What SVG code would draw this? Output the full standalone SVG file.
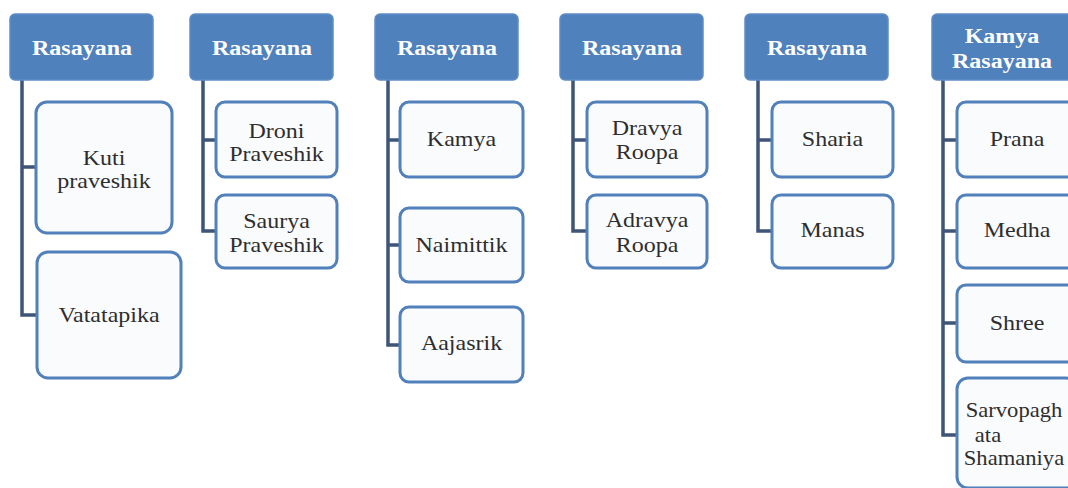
<svg xmlns="http://www.w3.org/2000/svg" width="1068" height="488" viewBox="0 0 1068 488">
<style>
.hd{fill:#4f81bd;stroke:#5f8dc6;stroke-width:1.5}
.ch{fill:#fafbfd;stroke:#5180bb;stroke-width:3}
.ht{font-family:"Liberation Serif","Times New Roman",serif;font-weight:bold;font-size:20px;fill:#ffffff;text-anchor:middle}
.ct{font-family:"Liberation Serif","Times New Roman",serif;font-size:20px;fill:#2e2e2e;text-anchor:middle}
.cn{fill:none;stroke:#3e5577;stroke-width:3.5}
</style>
<rect width="1068" height="488" fill="#ffffff"/>
<g id="connectors">
<path class="cn" d="M22 80V315H37M22 167H36"/>
<path class="cn" d="M203 80V231H216M203 140H216"/>
<path class="cn" d="M388 80V345H400M388 140H400M388 245H400"/>
<path class="cn" d="M573 80V231H587M573 140H587"/>
<path class="cn" d="M758 80V231H772M758 140H772"/>
<path class="cn" d="M943 80V435H957M943 140H957M943 231H957M943 323H957"/>
</g>
<g id="h1"><rect class="hd" x="10" y="14" width="143" height="66" rx="5"/><text class="ht" transform="translate(82 0) scale(1.2 1)" y="55">Rasayana</text></g>
<g id="h2"><rect class="hd" x="190" y="14" width="143" height="66" rx="5"/><text class="ht" transform="translate(262 0) scale(1.2 1)" y="55">Rasayana</text></g>
<g id="h3"><rect class="hd" x="375" y="14" width="143" height="66" rx="5"/><text class="ht" transform="translate(447 0) scale(1.2 1)" y="55">Rasayana</text></g>
<g id="h4"><rect class="hd" x="560" y="14" width="143" height="66" rx="5"/><text class="ht" transform="translate(632 0) scale(1.2 1)" y="55">Rasayana</text></g>
<g id="h5"><rect class="hd" x="745" y="14" width="143" height="66" rx="5"/><text class="ht" transform="translate(817 0) scale(1.2 1)" y="55">Rasayana</text></g>
<g id="h6"><rect class="hd" x="932" y="14" width="143" height="66" rx="5"/><text class="ht" transform="translate(1002 0) scale(1.2 1)"><tspan x="0" y="43">Kamya</tspan><tspan x="0" y="68">Rasayana</tspan></text></g>
<g id="kuti"><rect class="ch" x="36" y="102" width="136" height="131" rx="11"/><text class="ct" transform="translate(104 0) scale(1.2 1)"><tspan x="0" y="165">Kuti</tspan><tspan x="0" y="188">praveshik</tspan></text></g>
<g id="vatatapika"><rect class="ch" x="37" y="252" width="144" height="126" rx="11"/><text class="ct" transform="translate(109 0) scale(1.2 1)" y="322">Vatatapika</text></g>
<g id="droni"><rect class="ch" x="216" y="102" width="121" height="75" rx="9"/><text class="ct" transform="translate(276.5 0) scale(1.2 1)"><tspan x="0" y="138">Droni</tspan><tspan x="0" y="161">Praveshik</tspan></text></g>
<g id="saurya"><rect class="ch" x="216" y="195" width="121" height="73" rx="9"/><text class="ct" transform="translate(276.5 0) scale(1.2 1)"><tspan x="0" y="228">Saurya</tspan><tspan x="0" y="252">Praveshik</tspan></text></g>
<g id="kamya"><rect class="ch" x="400" y="102" width="123" height="75" rx="9"/><text class="ct" transform="translate(461.5 0) scale(1.2 1)" y="146">Kamya</text></g>
<g id="naimittik"><rect class="ch" x="400" y="208" width="123" height="74" rx="9"/><text class="ct" transform="translate(461.5 0) scale(1.2 1)" y="252">Naimittik</text></g>
<g id="aajasrik"><rect class="ch" x="400" y="307" width="123" height="75" rx="9"/><text class="ct" transform="translate(461.5 0) scale(1.2 1)" y="350">Aajasrik</text></g>
<g id="dravya"><rect class="ch" x="587" y="102" width="120" height="75" rx="9"/><text class="ct" transform="translate(647 0) scale(1.2 1)"><tspan x="0" y="135">Dravya</tspan><tspan x="0" y="159">Roopa</tspan></text></g>
<g id="adravya"><rect class="ch" x="587" y="195" width="120" height="73" rx="9"/><text class="ct" transform="translate(647 0) scale(1.2 1)"><tspan x="0" y="227">Adravya</tspan><tspan x="0" y="252">Roopa</tspan></text></g>
<g id="sharia"><rect class="ch" x="772" y="102" width="121" height="75" rx="9"/><text class="ct" transform="translate(832.5 0) scale(1.2 1)" y="146">Sharia</text></g>
<g id="manas"><rect class="ch" x="772" y="195" width="121" height="73" rx="9"/><text class="ct" transform="translate(832.5 0) scale(1.2 1)" y="237">Manas</text></g>
<g id="prana"><rect class="ch" x="957" y="102" width="120" height="75" rx="9"/><text class="ct" transform="translate(1017 0) scale(1.2 1)" y="146">Prana</text></g>
<g id="medha"><rect class="ch" x="957" y="195" width="120" height="73" rx="9"/><text class="ct" transform="translate(1017 0) scale(1.2 1)" y="237">Medha</text></g>
<g id="shree"><rect class="ch" x="957" y="285" width="120" height="77" rx="9"/><text class="ct" transform="translate(1017 0) scale(1.2 1)" y="330">Shree</text></g>
<g id="sarvo"><rect class="ch" x="957" y="378" width="120" height="110" rx="11"/><text class="ct" transform="translate(1014 0) scale(1.13 1)"><tspan x="0" y="417">Sarvopagh</tspan><tspan x="-23" y="442">ata</tspan><tspan x="0" y="465">Shamaniya</tspan></text></g>
</svg>
